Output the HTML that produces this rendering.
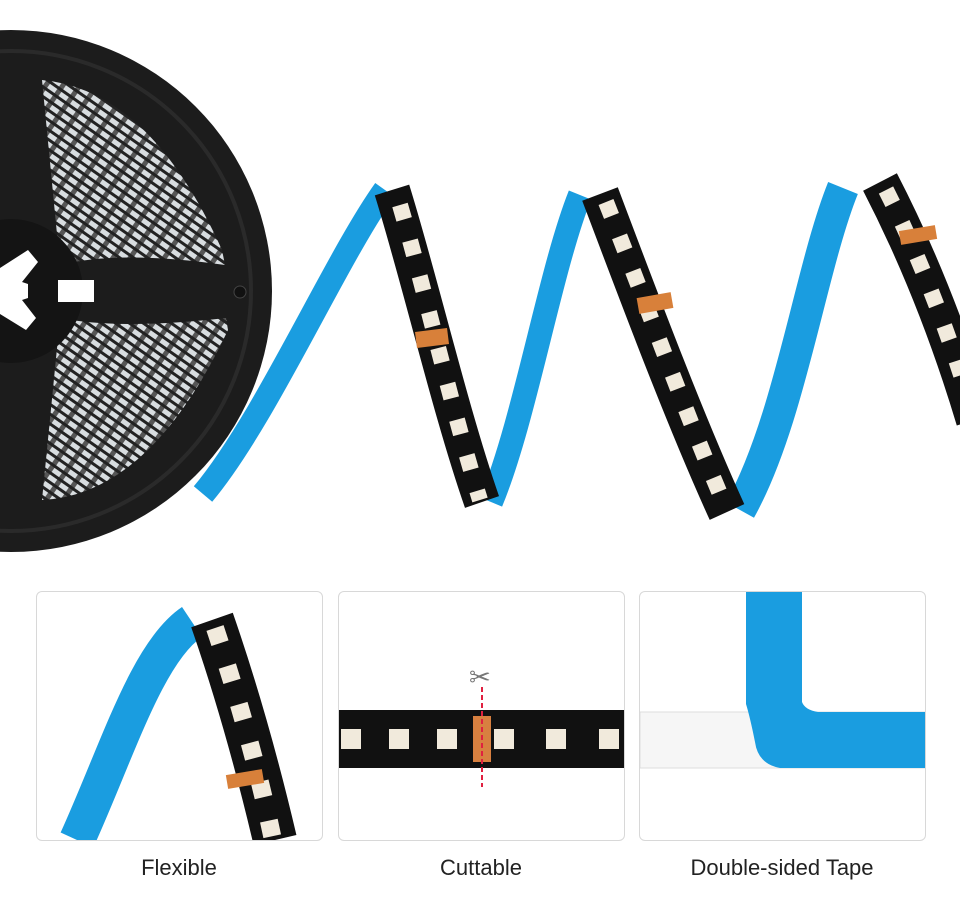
<!DOCTYPE html>
<html><head><meta charset="utf-8"><style>
body{margin:0;width:960px;height:900px;background:#fff;overflow:hidden;font-family:"Liberation Sans",sans-serif;position:relative}
.box{position:absolute;top:591px;width:285px;height:248px;border:1px solid #d8d8d8;border-radius:6px;overflow:hidden;background:#fff}
.lab{position:absolute;top:855px;font-size:22px;color:#222;text-align:center;width:286px}
</style></head><body>
<svg width="960" height="580" style="position:absolute;left:0;top:0">
<defs>
<pattern id="wind" width="14" height="8" patternUnits="userSpaceOnUse" patternTransform="rotate(35)">
<rect width="14" height="8" fill="#d8dde0"/><rect y="5" width="14" height="3" fill="#222"/><rect x="0" width="5" height="5" fill="#555"/>
</pattern>
</defs>
<circle cx="11" cy="291" r="261" fill="#1c1c1c"/>
<circle cx="11" cy="291" r="240" fill="none" stroke="#2a2a2a" stroke-width="4"/>
<path d="M42 80 Q150 90 222 250 L225 265 Q120 250 60 265 Z" fill="url(#wind)"/>
<path d="M42 500 Q150 495 228 330 L226 318 Q120 330 60 318 Z" fill="url(#wind)"/>
<circle cx="11" cy="291" r="72" fill="#141414"/>
<path d="M0 268 L28 250 L38 262 L22 282 L28 284 L28 298 L22 300 L36 318 L26 330 L0 314 Z" fill="#fff"/>
<rect x="58" y="280" width="36" height="22" fill="#fff"/>
<circle cx="240" cy="292" r="6" fill="#111" stroke="#444"/>
<g fill="none" stroke-linecap="butt">
<!-- blue ribbons -->
<path d="M203 494 C265 420 335 260 385 190" stroke="#1a9de0" stroke-width="24"/>
<path d="M491 502 C525 420 550 270 580 195" stroke="#1a9de0" stroke-width="24"/>
<path d="M740 510 C790 420 810 270 843 188" stroke="#1a9de0" stroke-width="32"/>
<!-- black strips -->
<path d="M392 190 C420 280 450 410 482 502" stroke="#111" stroke-width="36"/>
<path d="M400 205 C425 290 452 410 480 500" stroke="#f1eadc" stroke-width="16" stroke-dasharray="15 22"/>
<path d="M600 194 C640 300 685 420 727 512" stroke="#111" stroke-width="38"/>
<path d="M606 202 C645 300 688 420 726 508" stroke="#f1eadc" stroke-width="16" stroke-dasharray="15 22"/>
<path d="M880 182 C910 240 945 320 975 420" stroke="#111" stroke-width="38"/>
<path d="M886 190 C914 245 945 320 972 410" stroke="#f1eadc" stroke-width="16" stroke-dasharray="15 22"/>
<path d="M416 340 L448 336" stroke="#d8803a" stroke-width="16"/>
<path d="M638 306 L672 300" stroke="#d8803a" stroke-width="16"/>
<path d="M900 238 L936 232" stroke="#d8803a" stroke-width="14"/>
</g>
</svg>

<div class="box" style="left:36px">
<svg width="285" height="248" fill="none">
<path d="M40 248 C80 160 110 60 155 30" stroke="#1a9de0" stroke-width="36"/>
<path d="M175 28 C200 100 222 180 238 248" stroke="#111" stroke-width="44"/>
<path d="M178 36 C201 105 222 180 236 248" stroke="#f1eadc" stroke-width="18" stroke-dasharray="16 24"/>
<path d="M190 190 L226 184" stroke="#d8803a" stroke-width="14"/>
</svg></div>
<div class="box" style="left:338px">
<svg width="285" height="248">
<rect x="0" y="118" width="285" height="58" fill="#111"/>
<g fill="#f1eadc">
<rect x="2" y="137" width="20" height="20"/><rect x="50" y="137" width="20" height="20"/><rect x="98" y="137" width="20" height="20"/>
<rect x="155" y="137" width="20" height="20"/><rect x="207" y="137" width="20" height="20"/><rect x="260" y="137" width="20" height="20"/>
</g>
<rect x="134" y="124" width="18" height="46" fill="#d88040"/>
<line x1="143" y1="95" x2="143" y2="195" stroke="#e02040" stroke-width="2" stroke-dasharray="5 3"/>
<text x="130" y="94" font-size="26" fill="#777" font-family="DejaVu Sans">✂</text>
</svg></div>
<div class="box" style="left:639px">
<svg width="285" height="248">
<rect x="0" y="120" width="285" height="56" fill="#f6f6f6" stroke="#ddd"/>
<path d="M106 0 L162 0 L162 110 Q165 118 178 120 L285 120 L285 176 L140 176 Q118 172 115 150 Q110 125 106 112 Z" fill="#1a9de0"/>
</svg></div>
<div class="lab" style="left:36px">Flexible</div>
<div class="lab" style="left:338px">Cuttable</div>
<div class="lab" style="left:639px">Double-sided Tape</div>
</body></html>
